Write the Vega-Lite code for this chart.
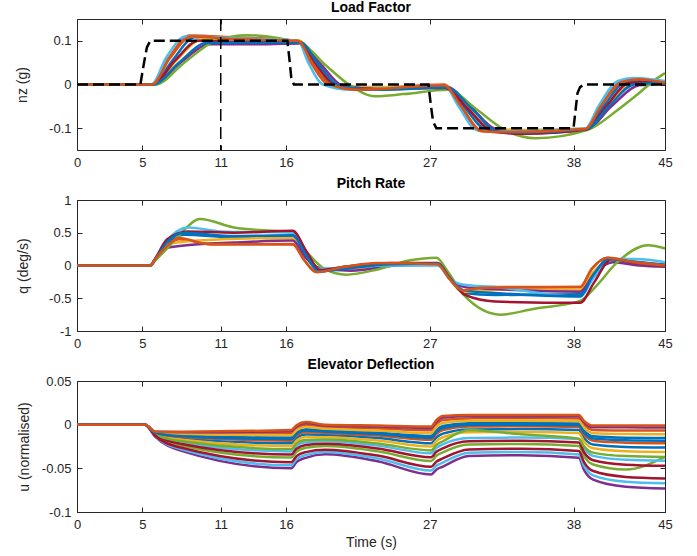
{
"$schema": "https://vega.github.io/schema/vega-lite/v6.json",
"padding": {"left": 15, "top": 0, "right": 5, "bottom": 2},
"spacing": 6,
"config": {
  "font": "Liberation Sans",
  "view": {"stroke": "#262626", "strokeWidth": 1},
  "axis": {"grid": false, "domain": false, "tickColor": "#262626", "tickSize": -5, "tickWidth": 1, "labelColor": "#262626", "labelFont": "Liberation Sans", "labelFontSize": 13, "titleFont": "Liberation Sans", "titleFontSize": 14, "titleFontWeight": "normal", "titleColor": "#262626"},
  "axisX": {"labelPadding": 11, "labelFlush": false},
  "axisY": {"labelPadding": 11},
  "title": {"font": "Liberation Sans", "fontSize": 14, "fontWeight": "bold", "color": "#000000", "offset": 3, "anchor": "middle"}
},
"datasets": {
"lf": [
{"r":"01","t":0,"v":0},{"r":"01","t":5.8,"v":0},{"r":"01","t":7.3,"v":0.055},{"r":"01","t":9.0,"v":0.108},{"r":"01","t":12,"v":0.105},{"r":"01","t":17.0,"v":0.099},{"r":"01","t":18.2,"v":0.05},{"r":"01","t":19.6,"v":0.0},{"r":"01","t":22,"v":-0.008},{"r":"01","t":28.2,"v":-0.004},{"r":"01","t":29.6,"v":-0.05},{"r":"01","t":31.3,"v":-0.103},{"r":"01","t":34,"v":-0.108},{"r":"01","t":38.9,"v":-0.102},{"r":"01","t":40.3,"v":-0.05},{"r":"01","t":41.9,"v":0.005},{"r":"01","t":43.3,"v":0.01},{"r":"01","t":45,"v":0.003},
{"r":"02","t":0,"v":0},{"r":"02","t":5.7,"v":0},{"r":"02","t":7.0,"v":0.06},{"r":"02","t":8.6,"v":0.112},{"r":"02","t":12,"v":0.108},{"r":"02","t":16.9,"v":0.1},{"r":"02","t":17.9,"v":0.05},{"r":"02","t":19.2,"v":0.0},{"r":"02","t":21.5,"v":-0.01},{"r":"02","t":28.1,"v":0},{"r":"02","t":29.3,"v":-0.05},{"r":"02","t":30.8,"v":-0.106},{"r":"02","t":33,"v":-0.11},{"r":"02","t":38.9,"v":-0.102},{"r":"02","t":40.0,"v":-0.05},{"r":"02","t":41.6,"v":0.008},{"r":"02","t":42.8,"v":0.014},{"r":"02","t":45,"v":0.005},
{"r":"03","t":0,"v":0},{"r":"03","t":5.85,"v":0},{"r":"03","t":7.6,"v":0.055},{"r":"03","t":9.6,"v":0.104},{"r":"03","t":12,"v":0.104},{"r":"03","t":17.0,"v":0.1},{"r":"03","t":18.4,"v":0.05},{"r":"03","t":19.9,"v":0.0},{"r":"03","t":22.5,"v":-0.006},{"r":"03","t":28.2,"v":-0.003},{"r":"03","t":29.8,"v":-0.05},{"r":"03","t":31.6,"v":-0.1},{"r":"03","t":34,"v":-0.104},{"r":"03","t":39.0,"v":-0.101},{"r":"03","t":40.6,"v":-0.05},{"r":"03","t":42.4,"v":0.0},{"r":"03","t":44,"v":0.008},{"r":"03","t":45,"v":0.006},
{"r":"04","t":0,"v":0},{"r":"04","t":5.9,"v":0},{"r":"04","t":7.9,"v":0.05},{"r":"04","t":10.2,"v":0.092},{"r":"04","t":13,"v":0.092},{"r":"04","t":17.1,"v":0.094},{"r":"04","t":18.7,"v":0.045},{"r":"04","t":20.3,"v":-0.002},{"r":"04","t":23,"v":-0.01},{"r":"04","t":28.3,"v":-0.006},{"r":"04","t":30.1,"v":-0.05},{"r":"04","t":32.0,"v":-0.102},{"r":"04","t":34,"v":-0.112},{"r":"04","t":39.0,"v":-0.103},{"r":"04","t":40.9,"v":-0.05},{"r":"04","t":43.0,"v":-0.002},{"r":"04","t":45,"v":0.002},
{"r":"05","t":0,"v":0},{"r":"05","t":6.0,"v":0},{"r":"05","t":8.2,"v":0.05},{"r":"05","t":10.6,"v":0.1},{"r":"05","t":13,"v":0.113},{"r":"05","t":17.2,"v":0.093},{"r":"05","t":19.0,"v":0.045},{"r":"05","t":20.8,"v":0.0},{"r":"05","t":22.8,"v":-0.027},{"r":"05","t":25,"v":-0.022},{"r":"05","t":28.4,"v":-0.012},{"r":"05","t":30.5,"v":-0.055},{"r":"05","t":32.8,"v":-0.105},{"r":"05","t":35.1,"v":-0.123},{"r":"05","t":39.1,"v":-0.104},{"r":"05","t":41.3,"v":-0.06},{"r":"05","t":43.0,"v":-0.02},{"r":"05","t":44.2,"v":0.01},{"r":"05","t":45,"v":0.026},
{"r":"06","t":0,"v":0},{"r":"06","t":5.7,"v":0},{"r":"06","t":6.8,"v":0.06},{"r":"06","t":8.3,"v":0.11},{"r":"06","t":12,"v":0.106},{"r":"06","t":16.9,"v":0.1},{"r":"06","t":17.7,"v":0.05},{"r":"06","t":18.8,"v":0.0},{"r":"06","t":21,"v":-0.012},{"r":"06","t":28.1,"v":-0.002},{"r":"06","t":29.2,"v":-0.05},{"r":"06","t":30.6,"v":-0.104},{"r":"06","t":33,"v":-0.107},{"r":"06","t":38.9,"v":-0.101},{"r":"06","t":39.9,"v":-0.05},{"r":"06","t":41.4,"v":0.008},{"r":"06","t":42.6,"v":0.015},{"r":"06","t":45,"v":0.008},
{"r":"07","t":0,"v":0},{"r":"07","t":5.8,"v":0},{"r":"07","t":7.5,"v":0.055},{"r":"07","t":9.3,"v":0.1},{"r":"07","t":12,"v":0.098},{"r":"07","t":17.0,"v":0.097},{"r":"07","t":18.3,"v":0.045},{"r":"07","t":19.8,"v":-0.002},{"r":"07","t":22,"v":-0.012},{"r":"07","t":28.2,"v":-0.008},{"r":"07","t":29.9,"v":-0.055},{"r":"07","t":31.8,"v":-0.107},{"r":"07","t":34,"v":-0.113},{"r":"07","t":39.0,"v":-0.103},{"r":"07","t":40.5,"v":-0.05},{"r":"07","t":42.2,"v":0.003},{"r":"07","t":43.8,"v":0.006},{"r":"07","t":45,"v":0.001},
{"r":"08","t":0,"v":0},{"r":"08","t":5.85,"v":0},{"r":"08","t":7.8,"v":0.05},{"r":"08","t":9.9,"v":0.095},{"r":"08","t":13,"v":0.096},{"r":"08","t":17.1,"v":0.096},{"r":"08","t":18.5,"v":0.045},{"r":"08","t":20.1,"v":-0.003},{"r":"08","t":23,"v":-0.012},{"r":"08","t":28.3,"v":-0.007},{"r":"08","t":30.2,"v":-0.055},{"r":"08","t":32.2,"v":-0.108},{"r":"08","t":34.5,"v":-0.11},{"r":"08","t":39.0,"v":-0.102},{"r":"08","t":40.7,"v":-0.05},{"r":"08","t":42.6,"v":0.0},{"r":"08","t":44.5,"v":0.004},{"r":"08","t":45,"v":0.002},
{"r":"09","t":0,"v":0},{"r":"09","t":5.75,"v":0},{"r":"09","t":7.1,"v":0.06},{"r":"09","t":8.8,"v":0.11},{"r":"09","t":12,"v":0.104},{"r":"09","t":16.9,"v":0.1},{"r":"09","t":18.0,"v":0.05},{"r":"09","t":19.4,"v":0.0},{"r":"09","t":21.5,"v":-0.012},{"r":"09","t":28.1,"v":-0.002},{"r":"09","t":29.4,"v":-0.05},{"r":"09","t":31.0,"v":-0.107},{"r":"09","t":33,"v":-0.109},{"r":"09","t":38.9,"v":-0.102},{"r":"09","t":40.1,"v":-0.05},{"r":"09","t":41.7,"v":0.006},{"r":"09","t":43,"v":0.012},{"r":"09","t":45,"v":0.004}
],
"ref": [
{"t":0,"v":0},{"t":4.85,"v":0},{"t":5.1,"v":0.045},{"t":5.35,"v":0.085},{"t":5.6,"v":0.1},{"t":16.1,"v":0.1},{"t":16.25,"v":0.06},{"t":16.4,"v":0.015},{"t":16.6,"v":0},{"t":26.9,"v":0},{"t":27.05,"v":-0.04},{"t":27.25,"v":-0.085},{"t":27.5,"v":-0.1},{"t":38.0,"v":-0.1},{"t":38.15,"v":-0.06},{"t":38.3,"v":-0.02},{"t":38.5,"v":-0.006},{"t":38.8,"v":0},{"t":45,"v":0}
],
"vl": [{"t":11}],
"pr": [
{"r":"01","t":0,"v":0},{"r":"01","t":5.6,"v":0},{"r":"01","t":6.9,"v":0.33},{"r":"01","t":8.2,"v":0.47},{"r":"01","t":12,"v":0.43},{"r":"01","t":16.5,"v":0.43},{"r":"01","t":17.5,"v":0.14},{"r":"01","t":18.5,"v":-0.08},{"r":"01","t":20.5,"v":-0.05},{"r":"01","t":24,"v":0.02},{"r":"01","t":27.6,"v":0.03},{"r":"01","t":28.5,"v":-0.2},{"r":"01","t":29.6,"v":-0.42},{"r":"01","t":32,"v":-0.45},{"r":"01","t":38.5,"v":-0.44},{"r":"01","t":39.5,"v":-0.15},{"r":"01","t":40.8,"v":0.08},{"r":"01","t":42.5,"v":0.04},{"r":"01","t":45,"v":0.0},
{"r":"02","t":0,"v":0},{"r":"02","t":5.6,"v":0},{"r":"02","t":6.9,"v":0.3},{"r":"02","t":7.8,"v":0.4},{"r":"02","t":10.5,"v":0.32},{"r":"02","t":16.5,"v":0.33},{"r":"02","t":17.4,"v":0.08},{"r":"02","t":18.3,"v":-0.1},{"r":"02","t":20.5,"v":-0.02},{"r":"02","t":24,"v":0.03},{"r":"02","t":27.6,"v":0.02},{"r":"02","t":28.5,"v":-0.2},{"r":"02","t":29.4,"v":-0.38},{"r":"02","t":31.5,"v":-0.33},{"r":"02","t":38.5,"v":-0.33},{"r":"02","t":39.4,"v":-0.05},{"r":"02","t":40.6,"v":0.12},{"r":"02","t":42.5,"v":0.06},{"r":"02","t":45,"v":0.01},
{"r":"03","t":0,"v":0},{"r":"03","t":5.6,"v":0},{"r":"03","t":6.9,"v":0.32},{"r":"03","t":8.0,"v":0.36},{"r":"03","t":11,"v":0.4},{"r":"03","t":16.5,"v":0.42},{"r":"03","t":17.5,"v":0.14},{"r":"03","t":18.5,"v":-0.06},{"r":"03","t":20.5,"v":-0.06},{"r":"03","t":24,"v":0.01},{"r":"03","t":27.6,"v":0.02},{"r":"03","t":28.5,"v":-0.2},{"r":"03","t":29.6,"v":-0.4},{"r":"03","t":32,"v":-0.37},{"r":"03","t":38.5,"v":-0.37},{"r":"03","t":39.5,"v":-0.1},{"r":"03","t":40.9,"v":0.08},{"r":"03","t":43,"v":0.02},{"r":"03","t":45,"v":0.0},
{"r":"04","t":0,"v":0},{"r":"04","t":5.6,"v":0},{"r":"04","t":6.9,"v":0.27},{"r":"04","t":8.0,"v":0.3},{"r":"04","t":12,"v":0.35},{"r":"04","t":16.5,"v":0.38},{"r":"04","t":17.5,"v":0.12},{"r":"04","t":18.6,"v":-0.04},{"r":"04","t":21,"v":-0.08},{"r":"04","t":24.5,"v":0.0},{"r":"04","t":27.6,"v":0.01},{"r":"04","t":28.5,"v":-0.19},{"r":"04","t":29.7,"v":-0.33},{"r":"04","t":32,"v":-0.36},{"r":"04","t":38.5,"v":-0.4},{"r":"04","t":39.6,"v":-0.12},{"r":"04","t":41,"v":0.05},{"r":"04","t":43,"v":0.0},{"r":"04","t":45,"v":-0.02},
{"r":"05","t":0,"v":0},{"r":"05","t":5.6,"v":0},{"r":"05","t":6.9,"v":0.26},{"r":"05","t":8.0,"v":0.5},{"r":"05","t":9.4,"v":0.71},{"r":"05","t":12,"v":0.58},{"r":"05","t":16.5,"v":0.5},{"r":"05","t":17.7,"v":0.18},{"r":"05","t":19,"v":-0.06},{"r":"05","t":20.6,"v":-0.14},{"r":"05","t":23,"v":-0.06},{"r":"05","t":25.5,"v":0.08},{"r":"05","t":27.5,"v":0.12},{"r":"05","t":28.4,"v":-0.1},{"r":"05","t":29.6,"v":-0.45},{"r":"05","t":32.4,"v":-0.75},{"r":"05","t":35,"v":-0.66},{"r":"05","t":38.5,"v":-0.54},{"r":"05","t":39.8,"v":-0.3},{"r":"05","t":41.2,"v":0.02},{"r":"05","t":43.7,"v":0.31},{"r":"05","t":45,"v":0.26},
{"r":"06","t":0,"v":0},{"r":"06","t":5.6,"v":0},{"r":"06","t":6.9,"v":0.38},{"r":"06","t":8.5,"v":0.58},{"r":"06","t":11,"v":0.52},{"r":"06","t":16.5,"v":0.5},{"r":"06","t":17.5,"v":0.2},{"r":"06","t":18.5,"v":-0.05},{"r":"06","t":20.5,"v":-0.03},{"r":"06","t":24,"v":0.0},{"r":"06","t":27.6,"v":0.0},{"r":"06","t":28.5,"v":-0.2},{"r":"06","t":29.5,"v":-0.29},{"r":"06","t":32,"v":-0.33},{"r":"06","t":38.5,"v":-0.48},{"r":"06","t":39.5,"v":-0.2},{"r":"06","t":40.9,"v":0.1},{"r":"06","t":42.8,"v":0.1},{"r":"06","t":45,"v":0.05},
{"r":"07","t":0,"v":0},{"r":"07","t":5.6,"v":0},{"r":"07","t":6.9,"v":0.4},{"r":"07","t":8.5,"v":0.52},{"r":"07","t":12,"v":0.5},{"r":"07","t":16.5,"v":0.53},{"r":"07","t":17.6,"v":0.2},{"r":"07","t":18.6,"v":-0.07},{"r":"07","t":20.5,"v":-0.02},{"r":"07","t":24,"v":0.04},{"r":"07","t":27.6,"v":0.04},{"r":"07","t":28.5,"v":-0.18},{"r":"07","t":29.7,"v":-0.45},{"r":"07","t":32,"v":-0.55},{"r":"07","t":38.5,"v":-0.57},{"r":"07","t":39.6,"v":-0.25},{"r":"07","t":40.9,"v":0.1},{"r":"07","t":42.5,"v":0.05},{"r":"07","t":45,"v":0.0},
{"r":"08","t":0,"v":0},{"r":"08","t":5.6,"v":0},{"r":"08","t":6.9,"v":0.36},{"r":"08","t":8.2,"v":0.5},{"r":"08","t":12,"v":0.45},{"r":"08","t":16.5,"v":0.46},{"r":"08","t":17.5,"v":0.17},{"r":"08","t":18.5,"v":-0.09},{"r":"08","t":20.5,"v":-0.05},{"r":"08","t":24,"v":0.02},{"r":"08","t":27.6,"v":0.03},{"r":"08","t":28.5,"v":-0.19},{"r":"08","t":29.6,"v":-0.38},{"r":"08","t":32,"v":-0.42},{"r":"08","t":38.5,"v":-0.47},{"r":"08","t":39.5,"v":-0.15},{"r":"08","t":40.7,"v":0.1},{"r":"08","t":42.5,"v":0.06},{"r":"08","t":45,"v":0.01},
{"r":"09","t":0,"v":0},{"r":"09","t":5.6,"v":0},{"r":"09","t":6.9,"v":0.3},{"r":"09","t":7.8,"v":0.42},{"r":"09","t":10,"v":0.33},{"r":"09","t":16.5,"v":0.32},{"r":"09","t":17.4,"v":0.08},{"r":"09","t":18.3,"v":-0.1},{"r":"09","t":20.5,"v":-0.02},{"r":"09","t":23,"v":0.04},{"r":"09","t":27.6,"v":0.02},{"r":"09","t":28.5,"v":-0.2},{"r":"09","t":29.5,"v":-0.38},{"r":"09","t":31,"v":-0.34},{"r":"09","t":38.5,"v":-0.33},{"r":"09","t":39.4,"v":-0.05},{"r":"09","t":40.6,"v":0.12},{"r":"09","t":42.3,"v":0.06},{"r":"09","t":45,"v":0.0},
{"r":"01","t":6.0,"v":0.1},{"r":"02","t":6.0,"v":0.1},{"r":"03","t":6.0,"v":0.1},{"r":"04","t":6.0,"v":0.09},{"r":"05","t":6.0,"v":0.08},{"r":"06","t":6.0,"v":0.11},{"r":"07","t":6.0,"v":0.11},{"r":"08","t":6.0,"v":0.1},{"r":"09","t":6.0,"v":0.1}
],
"el": [
{"r":"01","t":0,"v":0},{"r":"01","t":5.2,"v":0},{"r":"01","t":6,"v":-0.0101},{"r":"01","t":8,"v":-0.0157},{"r":"01","t":16.4,"v":-0.0214},{"r":"01","t":17.5,"v":-0.0114},{"r":"01","t":19,"v":-0.0119},{"r":"01","t":23,"v":-0.0154},{"r":"01","t":27.1,"v":-0.0213},{"r":"01","t":28,"v":-0.0103},{"r":"01","t":30,"v":-0.0055},{"r":"01","t":34,"v":-0.0051},{"r":"01","t":38.4,"v":-0.0062},{"r":"01","t":39.5,"v":-0.0227},{"r":"01","t":42,"v":-0.0255},{"r":"01","t":45,"v":-0.0262},
{"r":"02","t":0,"v":0},{"r":"02","t":5.2,"v":0},{"r":"02","t":6,"v":-0.0085},{"r":"02","t":8,"v":-0.0098},{"r":"02","t":16.4,"v":-0.0095},{"r":"02","t":17.5,"v":-0.0003},{"r":"02","t":19,"v":-0.0027},{"r":"02","t":23,"v":-0.0043},{"r":"02","t":27.1,"v":-0.0064},{"r":"02","t":28,"v":0.0054},{"r":"02","t":30,"v":0.0072},{"r":"02","t":34,"v":0.0073},{"r":"02","t":38.4,"v":0.0071},{"r":"02","t":39.5,"v":-0.006},{"r":"02","t":42,"v":-0.0066},{"r":"02","t":45,"v":-0.0068},
{"r":"03","t":0,"v":0},{"r":"03","t":5.2,"v":0},{"r":"03","t":6,"v":-0.0105},{"r":"03","t":8,"v":-0.0172},{"r":"03","t":16.4,"v":-0.0245},{"r":"03","t":17.5,"v":-0.0142},{"r":"03","t":19,"v":-0.0143},{"r":"03","t":23,"v":-0.0182},{"r":"03","t":27.1,"v":-0.0251},{"r":"03","t":28,"v":-0.0144},{"r":"03","t":30,"v":-0.0087},{"r":"03","t":34,"v":-0.0083},{"r":"03","t":38.4,"v":-0.0096},{"r":"03","t":39.5,"v":-0.027},{"r":"03","t":42,"v":-0.0304},{"r":"03","t":45,"v":-0.0312},
{"r":"04","t":0,"v":0},{"r":"04","t":5.2,"v":0},{"r":"04","t":6,"v":-0.014},{"r":"04","t":8,"v":-0.03},{"r":"04","t":16.4,"v":-0.05},{"r":"04","t":17.5,"v":-0.038},{"r":"04","t":19,"v":-0.034},{"r":"04","t":23,"v":-0.042},{"r":"04","t":27.1,"v":-0.057},{"r":"04","t":28,"v":-0.048},{"r":"04","t":30,"v":-0.036},{"r":"04","t":34,"v":-0.035},{"r":"04","t":38.4,"v":-0.038},{"r":"04","t":39.5,"v":-0.063},{"r":"04","t":42,"v":-0.071},{"r":"04","t":45,"v":-0.073},
{"r":"05","t":0,"v":0},{"r":"05","t":5.2,"v":0},{"r":"05","t":6,"v":-0.0123},{"r":"05","t":8,"v":-0.0238},{"r":"05","t":16.4,"v":-0.0377},{"r":"05","t":17.5,"v":-0.0265},{"r":"05","t":19,"v":-0.0245},{"r":"05","t":23,"v":-0.0305},{"r":"05","t":27.1,"v":-0.0416},{"r":"05","t":28,"v":-0.0318},{"r":"05","t":30,"v":-0.0228},{"r":"05","t":34,"v":-0.0221},{"r":"05","t":38.4,"v":-0.0243},{"r":"05","t":39.5,"v":-0.0456},{"r":"05","t":42,"v":-0.0514},{"r":"05","t":45,"v":-0.037},
{"r":"06","t":0,"v":0},{"r":"06","t":5.2,"v":0},{"r":"06","t":6,"v":-0.0114},{"r":"06","t":8,"v":-0.0203},{"r":"06","t":16.4,"v":-0.0306},{"r":"06","t":17.5,"v":-0.02},{"r":"06","t":19,"v":-0.019},{"r":"06","t":23,"v":-0.024},{"r":"06","t":27.1,"v":-0.0328},{"r":"06","t":28,"v":-0.0225},{"r":"06","t":30,"v":-0.0153},{"r":"06","t":34,"v":-0.0148},{"r":"06","t":38.4,"v":-0.0164},{"r":"06","t":39.5,"v":-0.0357},{"r":"06","t":42,"v":-0.0402},{"r":"06","t":45,"v":-0.0413},
{"r":"07","t":0,"v":0},{"r":"07","t":5.2,"v":0},{"r":"07","t":6,"v":-0.0118},{"r":"07","t":8,"v":-0.0221},{"r":"07","t":16.4,"v":-0.0342},{"r":"07","t":17.5,"v":-0.0232},{"r":"07","t":19,"v":-0.0218},{"r":"07","t":23,"v":-0.0272},{"r":"07","t":27.1,"v":-0.0372},{"r":"07","t":28,"v":-0.0271},{"r":"07","t":30,"v":-0.0191},{"r":"07","t":34,"v":-0.0184},{"r":"07","t":38.4,"v":-0.0204},{"r":"07","t":39.5,"v":-0.0407},{"r":"07","t":42,"v":-0.0458},{"r":"07","t":45,"v":-0.0471},
{"r":"08","t":0,"v":0},{"r":"08","t":5.2,"v":0},{"r":"08","t":6,"v":-0.0092},{"r":"08","t":8,"v":-0.0124},{"r":"08","t":16.4,"v":-0.0148},{"r":"08","t":17.5,"v":-0.0052},{"r":"08","t":19,"v":-0.0068},{"r":"08","t":23,"v":-0.0092},{"r":"08","t":27.1,"v":-0.013},{"r":"08","t":28,"v":-0.0016},{"r":"08","t":30,"v":0.0016},{"r":"08","t":34,"v":0.0018},{"r":"08","t":38.4,"v":0.0012},{"r":"08","t":39.5,"v":-0.0134},{"r":"08","t":42,"v":-0.015},{"r":"08","t":45,"v":-0.0154},
{"r":"09","t":0,"v":0},{"r":"09","t":5.2,"v":0},{"r":"09","t":6,"v":-0.0097},{"r":"09","t":8,"v":-0.0142},{"r":"09","t":16.4,"v":-0.0183},{"r":"09","t":17.5,"v":-0.0085},{"r":"09","t":19,"v":-0.0095},{"r":"09","t":23,"v":-0.0125},{"r":"09","t":27.1,"v":-0.0174},{"r":"09","t":28,"v":-0.0062},{"r":"09","t":30,"v":-0.0022},{"r":"09","t":34,"v":-0.0019},{"r":"09","t":38.4,"v":-0.0027},{"r":"09","t":39.5,"v":-0.0184},{"r":"09","t":42,"v":-0.0206},{"r":"09","t":45,"v":-0.0212},
{"r":"10","t":0,"v":0},{"r":"10","t":5.2,"v":0},{"r":"10","t":6,"v":-0.0088},{"r":"10","t":8,"v":-0.0111},{"r":"10","t":16.4,"v":-0.0122},{"r":"10","t":17.5,"v":-0.0027},{"r":"10","t":19,"v":-0.0048},{"r":"10","t":23,"v":-0.0067},{"r":"10","t":27.1,"v":-0.0097},{"r":"10","t":28,"v":0.0019},{"r":"10","t":30,"v":0.0044},{"r":"10","t":34,"v":0.0046},{"r":"10","t":38.4,"v":0.0041},{"r":"10","t":39.5,"v":-0.0097},{"r":"10","t":42,"v":-0.0108},{"r":"10","t":45,"v":-0.0111},
{"r":"11","t":0,"v":0},{"r":"11","t":5.2,"v":0},{"r":"11","t":6,"v":-0.0082},{"r":"11","t":8,"v":-0.0087},{"r":"11","t":16.4,"v":-0.0073},{"r":"11","t":17.5,"v":0.0018},{"r":"11","t":19,"v":-0.001},{"r":"11","t":23,"v":-0.0022},{"r":"11","t":27.1,"v":-0.0037},{"r":"11","t":28,"v":0.0083},{"r":"11","t":30,"v":0.0096},{"r":"11","t":34,"v":0.0096},{"r":"11","t":38.4,"v":0.0095},{"r":"11","t":39.5,"v":-0.0029},{"r":"11","t":42,"v":-0.0031},{"r":"11","t":45,"v":-0.0032},
{"r":"12","t":0,"v":0},{"r":"12","t":5.2,"v":0},{"r":"12","t":6,"v":-0.011},{"r":"12","t":8,"v":-0.019},{"r":"12","t":16.4,"v":-0.028},{"r":"12","t":17.5,"v":-0.0175},{"r":"12","t":19,"v":-0.017},{"r":"12","t":23,"v":-0.0215},{"r":"12","t":27.1,"v":-0.0295},{"r":"12","t":28,"v":-0.019},{"r":"12","t":30,"v":-0.006},{"r":"12","t":34,"v":-0.011},{"r":"12","t":38.4,"v":-0.016},{"r":"12","t":39.5,"v":-0.032},{"r":"12","t":42,"v":-0.036},{"r":"12","t":45,"v":-0.037},
{"r":"13","t":0,"v":0},{"r":"13","t":5.2,"v":0},{"r":"13","t":6,"v":-0.0135},{"r":"13","t":8,"v":-0.0282},{"r":"13","t":16.4,"v":-0.0465},{"r":"13","t":17.5,"v":-0.0347},{"r":"13","t":19,"v":-0.0313},{"r":"13","t":23,"v":-0.0387},{"r":"13","t":27.1,"v":-0.0526},{"r":"13","t":28,"v":-0.0434},{"r":"13","t":30,"v":-0.0322},{"r":"13","t":34,"v":-0.0313},{"r":"13","t":38.4,"v":-0.0341},{"r":"13","t":39.5,"v":-0.058},{"r":"13","t":42,"v":-0.0654},{"r":"13","t":45,"v":-0.0672},
{"r":"14","t":0,"v":0},{"r":"14","t":5.2,"v":0},{"r":"14","t":6,"v":-0.013},{"r":"14","t":8,"v":-0.0265},{"r":"14","t":16.4,"v":-0.043},{"r":"14","t":17.5,"v":-0.0314},{"r":"14","t":19,"v":-0.0286},{"r":"14","t":23,"v":-0.0354},{"r":"14","t":27.1,"v":-0.0482},{"r":"14","t":28,"v":-0.0387},{"r":"14","t":30,"v":-0.0285},{"r":"14","t":34,"v":-0.0276},{"r":"14","t":38.4,"v":-0.0302},{"r":"14","t":39.5,"v":-0.0531},{"r":"14","t":42,"v":-0.0598},{"r":"14","t":45,"v":-0.0615},
{"r":"15","t":0,"v":0},{"r":"15","t":5.2,"v":0},{"r":"15","t":6,"v":-0.0094},{"r":"15","t":8,"v":-0.0133},{"r":"15","t":16.4,"v":-0.0166},{"r":"15","t":17.5,"v":-0.0068},{"r":"15","t":19,"v":-0.0082},{"r":"15","t":23,"v":-0.0108},{"r":"15","t":27.1,"v":-0.0152},{"r":"15","t":28,"v":-0.0039},{"r":"15","t":30,"v":-0.0003},{"r":"15","t":34,"v":0.0},{"r":"15","t":38.4,"v":-0.0008},{"r":"15","t":39.5,"v":-0.0159},{"r":"15","t":42,"v":-0.0178},{"r":"15","t":45,"v":-0.0183},
{"r":"16","t":0,"v":0},{"r":"16","t":5.2,"v":0},{"r":"16","t":6,"v":-0.008},{"r":"16","t":8,"v":-0.008},{"r":"16","t":16.4,"v":-0.006},{"r":"16","t":17.5,"v":0.003},{"r":"16","t":19,"v":0.0},{"r":"16","t":23,"v":-0.001},{"r":"16","t":27.1,"v":-0.002},{"r":"16","t":28,"v":0.01},{"r":"16","t":30,"v":0.011},{"r":"16","t":34,"v":0.011},{"r":"16","t":38.4,"v":0.011},{"r":"16","t":39.5,"v":-0.001},{"r":"16","t":42,"v":-0.001},{"r":"16","t":45,"v":-0.001},
{"r":"01","t":16.8,"v":-0.0154},{"r":"01","t":27.5,"v":-0.0147},{"r":"01","t":38.8,"v":-0.0153},
{"r":"02","t":16.8,"v":-0.004},{"r":"02","t":27.5,"v":0.0007},{"r":"02","t":38.8,"v":-0.0001},
{"r":"03","t":16.8,"v":-0.0183},{"r":"03","t":27.5,"v":-0.0187},{"r":"03","t":38.8,"v":-0.0192},
{"r":"04","t":16.8,"v":-0.0428},{"r":"04","t":27.5,"v":-0.0516},{"r":"04","t":38.8,"v":-0.0518},
{"r":"05","t":16.8,"v":-0.031},{"r":"05","t":27.5,"v":-0.0357},{"r":"05","t":38.8,"v":-0.036},
{"r":"06","t":16.8,"v":-0.0242},{"r":"06","t":27.5,"v":-0.0266},{"r":"06","t":38.8,"v":-0.027},
{"r":"07","t":16.8,"v":-0.0276},{"r":"07","t":27.5,"v":-0.0311},{"r":"07","t":38.8,"v":-0.0316},
{"r":"08","t":16.8,"v":-0.009},{"r":"08","t":27.5,"v":-0.0062},{"r":"08","t":38.8,"v":-0.0068},
{"r":"09","t":16.8,"v":-0.0124},{"r":"09","t":27.5,"v":-0.0107},{"r":"09","t":38.8,"v":-0.0113},
{"r":"10","t":16.8,"v":-0.0065},{"r":"10","t":27.5,"v":-0.0027},{"r":"10","t":38.8,"v":-0.0035},
{"r":"11","t":16.8,"v":-0.0018},{"r":"11","t":27.5,"v":0.0035},{"r":"11","t":38.8,"v":0.0027},
{"r":"12","t":16.8,"v":-0.0217},{"r":"12","t":27.5,"v":-0.0232},{"r":"12","t":38.8,"v":-0.0248},
{"r":"13","t":16.8,"v":-0.0394},{"r":"13","t":27.5,"v":-0.0471},{"r":"13","t":38.8,"v":-0.0472},
{"r":"14","t":16.8,"v":-0.036},{"r":"14","t":27.5,"v":-0.0425},{"r":"14","t":38.8,"v":-0.0428},
{"r":"15","t":16.8,"v":-0.0107},{"r":"15","t":27.5,"v":-0.0084},{"r":"15","t":38.8,"v":-0.0091},
{"r":"16","t":16.8,"v":-0.0006},{"r":"16","t":27.5,"v":0.0052},{"r":"16","t":38.8,"v":0.0044}
]
},
"vconcat": [
{
  "title": "Load Factor",
  "width": 588, "height": 131,
  "resolve": {"axis": {"x": "independent", "y": "independent"}},
  "layer": [
    {
      "data": {"name": "lf"},
      "mark": {"type": "line", "interpolate": "monotone", "strokeWidth": 2.5, "strokeJoin": "round"},
      "encoding": {
        "x": {"field": "t", "type": "quantitative", "scale": {"domain": [0, 45], "nice": false, "zero": false}, "axis": {"orient": "bottom", "values": [0,5,11,16,27,38,45], "title": null}},
        "y": {"field": "v", "type": "quantitative", "scale": {"domain": [-0.15, 0.15], "nice": false, "zero": false}, "axis": {"orient": "left", "values": [-0.1,0,0.1], "format": "~g", "labelExpr": "replace(datum.label, '\u2212', '-')", "title": "nz (g)", "titlePadding": 19}},
        "color": {"field": "r", "type": "nominal", "legend": null, "scale": {"domain": ["01","02","03","04","05","06","07","08","09","10","11","12","13","14","15","16"], "range": ["#0072BD","#D95319","#EDB120","#7E2F8E","#77AC30","#4DBEEE","#A2142F","#0072BD","#D95319","#EDB120","#7E2F8E","#77AC30","#4DBEEE","#A2142F","#0072BD","#D95319"]}}
      }
    },
    {
      "data": {"name": "ref"},
      "mark": {"type": "line", "color": "#000000", "strokeWidth": 2.5, "strokeDash": [11, 5]},
      "encoding": {
        "x": {"field": "t", "type": "quantitative", "scale": {"domain": [0, 45], "nice": false, "zero": false}, "axis": {"orient": "top", "values": [0,5,11,16,27,38,45], "labels": false, "title": null}},
        "y": {"field": "v", "type": "quantitative", "scale": {"domain": [-0.15, 0.15], "nice": false, "zero": false}, "axis": {"orient": "right", "values": [-0.1,0,0.1], "labels": false, "title": null}}
      }
    },
    {
      "data": {"name": "vl"},
      "mark": {"type": "rule", "color": "#000000", "strokeWidth": 1.5, "strokeDash": [12, 6]},
      "encoding": {
        "x": {"field": "t", "type": "quantitative", "axis": null}
      }
    }
  ]
},
{
  "title": "Pitch Rate",
  "width": 588, "height": 131,
  "resolve": {"axis": {"x": "independent", "y": "independent"}},
  "layer": [
    {
      "data": {"name": "pr"},
      "mark": {"type": "line", "interpolate": "monotone", "strokeWidth": 2.5, "strokeJoin": "round"},
      "encoding": {
        "x": {"field": "t", "type": "quantitative", "scale": {"domain": [0, 45], "nice": false, "zero": false}, "axis": {"orient": "bottom", "values": [0,5,11,16,27,38,45], "title": null}},
        "y": {"field": "v", "type": "quantitative", "scale": {"domain": [-1, 1], "nice": false, "zero": false}, "axis": {"orient": "left", "values": [-1,-0.5,0,0.5,1], "format": "~g", "labelExpr": "replace(datum.label, '\u2212', '-')", "title": "q (deg/s)", "titlePadding": 18}},
        "color": {"field": "r", "type": "nominal", "legend": null, "scale": {"domain": ["01","02","03","04","05","06","07","08","09","10","11","12","13","14","15","16"], "range": ["#0072BD","#D95319","#EDB120","#7E2F8E","#77AC30","#4DBEEE","#A2142F","#0072BD","#D95319","#EDB120","#7E2F8E","#77AC30","#4DBEEE","#A2142F","#0072BD","#D95319"]}}
      }
    },
    {
      "data": {"name": "pr"},
      "mark": {"type": "point", "opacity": 0},
      "encoding": {
        "x": {"field": "t", "type": "quantitative", "scale": {"domain": [0, 45], "nice": false, "zero": false}, "axis": {"orient": "top", "values": [0,5,11,16,27,38,45], "labels": false, "title": null}},
        "y": {"field": "v", "type": "quantitative", "scale": {"domain": [-1, 1], "nice": false, "zero": false}, "axis": {"orient": "right", "values": [-1,-0.5,0,0.5,1], "labels": false, "title": null}}
      }
    }
  ]
},
{
  "title": "Elevator Deflection",
  "width": 588, "height": 131,
  "resolve": {"axis": {"x": "independent", "y": "independent"}},
  "layer": [
    {
      "data": {"name": "el"},
      "mark": {"type": "line", "interpolate": "monotone", "strokeWidth": 2.5, "strokeJoin": "round"},
      "encoding": {
        "x": {"field": "t", "type": "quantitative", "scale": {"domain": [0, 45], "nice": false, "zero": false}, "axis": {"orient": "bottom", "values": [0,5,11,16,27,38,45], "title": "Time (s)", "titlePadding": 4}},
        "y": {"field": "v", "type": "quantitative", "scale": {"domain": [-0.1, 0.05], "nice": false, "zero": false}, "axis": {"orient": "left", "values": [-0.1,-0.05,0,0.05], "format": "~g", "labelExpr": "replace(datum.label, '\u2212', '-')", "title": "u (normalised)", "titlePadding": 10}},
        "color": {"field": "r", "type": "nominal", "legend": null, "scale": {"domain": ["01","02","03","04","05","06","07","08","09","10","11","12","13","14","15","16"], "range": ["#0072BD","#D95319","#EDB120","#7E2F8E","#77AC30","#4DBEEE","#A2142F","#0072BD","#D95319","#EDB120","#7E2F8E","#77AC30","#4DBEEE","#A2142F","#0072BD","#D95319"]}}
      }
    },
    {
      "data": {"name": "el"},
      "mark": {"type": "point", "opacity": 0},
      "encoding": {
        "x": {"field": "t", "type": "quantitative", "scale": {"domain": [0, 45], "nice": false, "zero": false}, "axis": {"orient": "top", "values": [0,5,11,16,27,38,45], "labels": false, "title": null}},
        "y": {"field": "v", "type": "quantitative", "scale": {"domain": [-0.1, 0.05], "nice": false, "zero": false}, "axis": {"orient": "right", "values": [-0.1,-0.05,0,0.05], "labels": false, "title": null}}
      }
    }
  ]
}
]
}
